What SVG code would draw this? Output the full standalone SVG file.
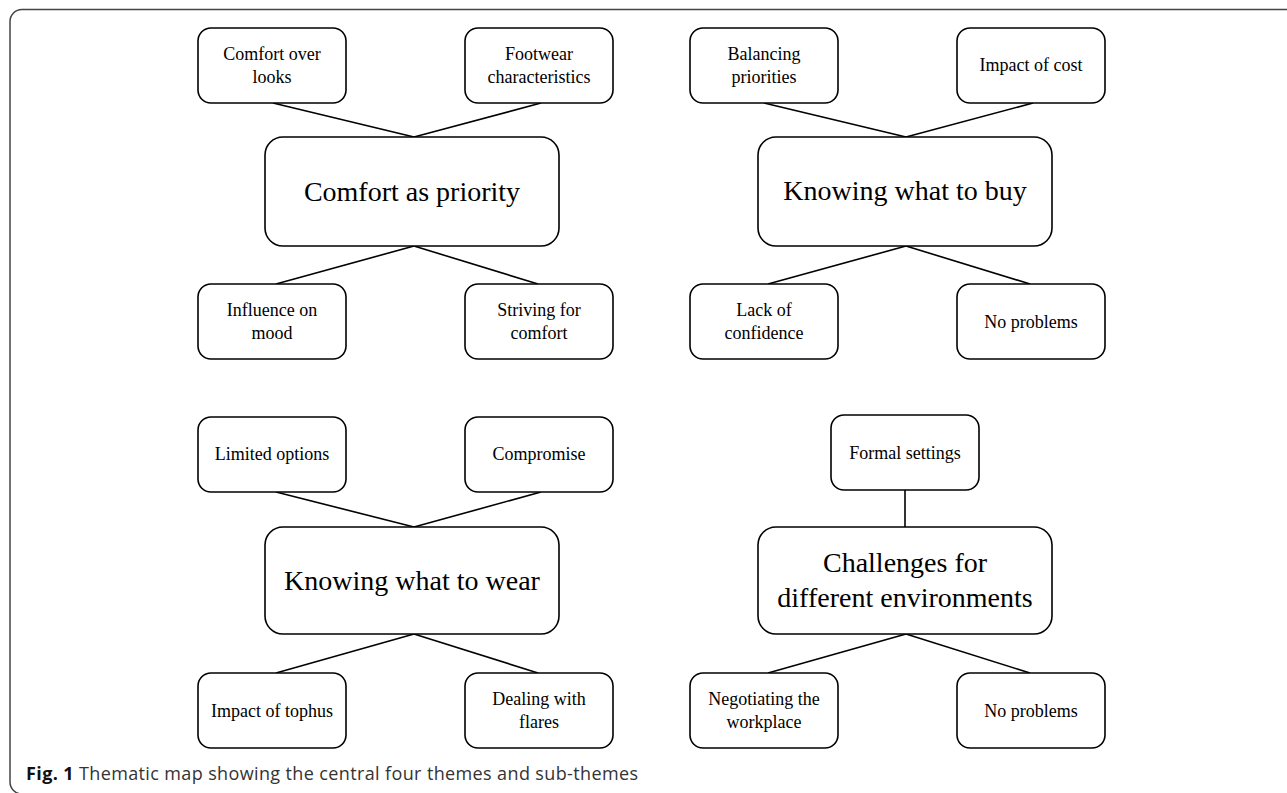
<svg xmlns="http://www.w3.org/2000/svg" width="1287" height="793" viewBox="0 0 1287 793">
<style>
.bx{fill:#fff;stroke:#000;stroke-width:1.6}
.ln{stroke:#000;stroke-width:1.6;fill:none}
.s{font-family:"Liberation Serif","Times New Roman",serif;font-size:18px;fill:#000;text-anchor:middle}
.b{font-family:"Liberation Serif","Times New Roman",serif;font-size:28px;fill:#000;text-anchor:middle}
.cap{font-family:"Open Sans","Noto Sans","Liberation Sans",sans-serif;font-size:18px;fill:#333}
</style>
<rect x="10" y="9.5" width="1300" height="784.5" rx="12" fill="none" stroke="#444" stroke-width="1.5"/>
<g id="connectors">
<line class="ln" x1="273" y1="103" x2="414" y2="137"/>
<line class="ln" x1="541" y1="103" x2="414" y2="137"/>
<line class="ln" x1="414" y1="246" x2="276" y2="284"/>
<line class="ln" x1="414" y1="246" x2="538" y2="284"/>
<line class="ln" x1="764" y1="103" x2="906" y2="137"/>
<line class="ln" x1="1033" y1="103" x2="906" y2="137"/>
<line class="ln" x1="906" y1="246" x2="768" y2="284"/>
<line class="ln" x1="906" y1="246" x2="1030" y2="284"/>
<line class="ln" x1="276" y1="492" x2="414" y2="527"/>
<line class="ln" x1="541" y1="492" x2="414" y2="527"/>
<line class="ln" x1="414" y1="634" x2="276" y2="673"/>
<line class="ln" x1="414" y1="634" x2="538" y2="673"/>
<line class="ln" x1="905" y1="490" x2="905" y2="527"/>
<line class="ln" x1="906" y1="634" x2="768" y2="673"/>
<line class="ln" x1="906" y1="634" x2="1030" y2="673"/>
</g>
<g id="n-comfort-over-looks"><rect class="bx" x="198" y="28" width="148" height="75" rx="13"/><text class="s" x="272" y="60">Comfort over</text><text class="s" x="272" y="83">looks</text></g>
<g id="n-footwear"><rect class="bx" x="465" y="28" width="148" height="75" rx="13"/><text class="s" x="539" y="60">Footwear</text><text class="s" x="539" y="83">characteristics</text></g>
<g id="n-comfort-priority"><rect class="bx" x="265" y="137" width="294" height="109" rx="18"/><text class="b" x="412" y="201">Comfort as priority</text></g>
<g id="n-influence-mood"><rect class="bx" x="198" y="284" width="148" height="75" rx="13"/><text class="s" x="272" y="316">Influence on</text><text class="s" x="272" y="339">mood</text></g>
<g id="n-striving"><rect class="bx" x="465" y="284" width="148" height="75" rx="13"/><text class="s" x="539" y="316">Striving for</text><text class="s" x="539" y="339">comfort</text></g>
<g id="n-balancing"><rect class="bx" x="690" y="28" width="148" height="75" rx="13"/><text class="s" x="764" y="60">Balancing</text><text class="s" x="764" y="83">priorities</text></g>
<g id="n-cost"><rect class="bx" x="957" y="28" width="148" height="75" rx="13"/><text class="s" x="1031" y="71">Impact of cost</text></g>
<g id="n-buy"><rect class="bx" x="758" y="137" width="294" height="109" rx="18"/><text class="b" x="905" y="200">Knowing what to buy</text></g>
<g id="n-confidence"><rect class="bx" x="690" y="284" width="148" height="75" rx="13"/><text class="s" x="764" y="316">Lack of</text><text class="s" x="764" y="339">confidence</text></g>
<g id="n-noproblems1"><rect class="bx" x="957" y="284" width="148" height="75" rx="13"/><text class="s" x="1031" y="328">No problems</text></g>
<g id="n-limited"><rect class="bx" x="198" y="417" width="148" height="75" rx="13"/><text class="s" x="272" y="460">Limited options</text></g>
<g id="n-compromise"><rect class="bx" x="465" y="417" width="148" height="75" rx="13"/><text class="s" x="539" y="460">Compromise</text></g>
<g id="n-wear"><rect class="bx" x="265" y="527" width="294" height="107" rx="18"/><text class="b" x="412" y="590">Knowing what to wear</text></g>
<g id="n-tophus"><rect class="bx" x="198" y="673" width="148" height="75" rx="13"/><text class="s" x="272" y="717">Impact of tophus</text></g>
<g id="n-flares"><rect class="bx" x="465" y="673" width="148" height="75" rx="13"/><text class="s" x="539" y="705">Dealing with</text><text class="s" x="539" y="728">flares</text></g>
<g id="n-formal"><rect class="bx" x="831" y="415" width="148" height="75" rx="13"/><text class="s" x="905" y="459">Formal settings</text></g>
<g id="n-challenges"><rect class="bx" x="758" y="527" width="294" height="107" rx="18"/><text class="b" x="905" y="572">Challenges for</text><text class="b" x="905" y="607">different environments</text></g>
<g id="n-workplace"><rect class="bx" x="690" y="673" width="148" height="75" rx="13"/><text class="s" x="764" y="705">Negotiating the</text><text class="s" x="764" y="728">workplace</text></g>
<g id="n-noproblems2"><rect class="bx" x="957" y="673" width="148" height="75" rx="13"/><text class="s" x="1031" y="717">No problems</text></g>
<text class="cap" x="26" y="780" textLength="612" lengthAdjust="spacing"><tspan font-weight="bold" fill="#111">Fig. 1</tspan> Thematic map showing the central four themes and sub-themes</text>
</svg>
